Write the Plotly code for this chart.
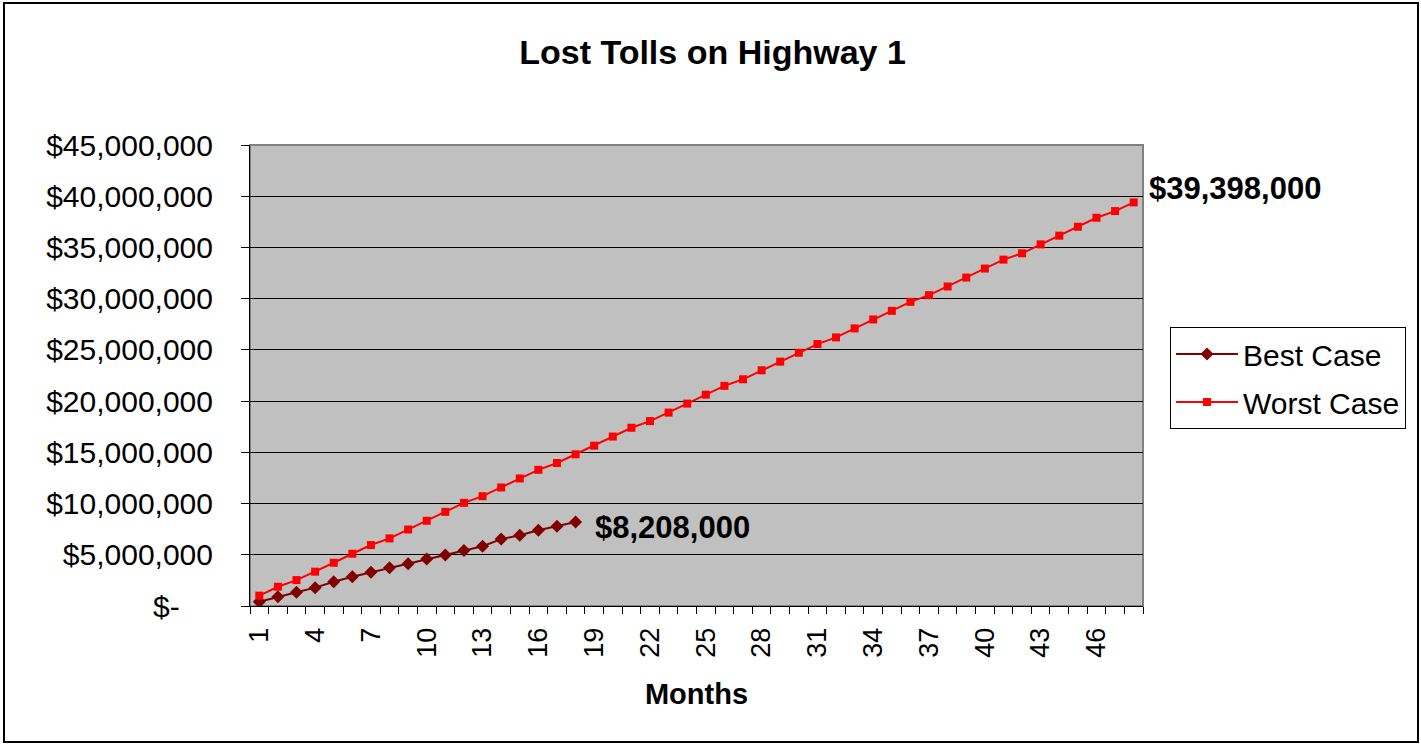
import plotly.graph_objects as go

months = list(range(1, 49))
best_months = list(range(1, 19))
best_case = [420000, 910000, 1340000, 1790000, 2370000, 2860000, 3290000, 3730000, 4130000,
             4580000, 4970000, 5420000, 5840000, 6530000, 6910000, 7400000, 7790000, 8208000]
worst_case = [1010000, 1880000, 2530000, 3350000, 4220000, 5100000, 5950000, 6600000, 7470000,
              8320000, 9190000, 10070000, 10720000, 11570000, 12450000, 13290000, 13960000, 14810000,
              15650000, 16540000, 17400000, 18050000, 18880000, 19760000, 20630000, 21490000, 22130000,
              23010000, 23850000, 24720000, 25570000, 26220000, 27100000, 27970000, 28810000, 29690000,
              30340000, 31190000, 32060000, 32940000, 33810000, 34430000, 35300000, 36150000, 37020000,
              37900000, 38550000, 39398000]
x_tick_vals = list(range(1, 48, 3))
x_tick_text = [str(v) for v in x_tick_vals]
y_tick_vals = [0, 5000000, 10000000, 15000000, 20000000, 25000000, 30000000, 35000000, 40000000, 45000000]
y_tick_text = ["$-\u00a0\u00a0\u00a0\u00a0", "$5,000,000", "$10,000,000", "$15,000,000", "$20,000,000",
               "$25,000,000", "$30,000,000", "$35,000,000", "$40,000,000", "$45,000,000"]

FONT = "Liberation Sans, Arial, sans-serif"
W, H = 1421, 746
L, R, T, B = 250, 1143, 145, 606

fig = go.Figure()
fig.add_trace(go.Scatter(x=best_months, y=best_case, name="Best Case", mode="lines+markers",
                         line=dict(color="#800000", width=2),
                         marker=dict(symbol="diamond", size=10, color="#800000"),
                         legendgroup="a"))
fig.add_trace(go.Scatter(x=months, y=worst_case, name="Worst Case", mode="lines+markers",
                         line=dict(color="#FF0000", width=2),
                         marker=dict(symbol="square", size=8, color="#FF0000"),
                         legendgroup="b"))

pw, ph = R - L, B - T
def px(xp):
    return (xp - L) / pw
def py(yp):
    return (B - yp) / ph

fig.update_layout(
    width=W, height=H,
    margin=dict(l=L, r=W - R, t=T, b=H - B),
    paper_bgcolor="white", plot_bgcolor="#C0C0C0",
    font=dict(family=FONT, color="black", size=30),
    title=dict(text="<b>Lost Tolls on Highway 1</b>", x=712.5 / W, xref="container", xanchor="center",
               y=1 - 52 / H, yref="container", yanchor="middle",
               font=dict(size=34, family=FONT, color="black")),
    showlegend=True,
    legend=dict(x=px(1170), y=py(327), xanchor="left", yanchor="top",
                bgcolor="white", bordercolor="black", borderwidth=1,
                font=dict(size=30, family=FONT), traceorder="grouped",
                tracegroupgap=6, itemwidth=62),
    xaxis=dict(range=[0.5, 48.5], tickmode="array", tickvals=x_tick_vals, ticktext=x_tick_text,
               tickangle=-90, ticks="", showgrid=False, zeroline=False,
               showline=True, linecolor="black", linewidth=1,
               tickfont=dict(size=27, family=FONT), ticklabelstandoff=10,
               minor=dict(tickmode="linear", tick0=0.5, dtick=1, ticks="outside", ticklen=7,
                          tickcolor="black", tickwidth=1, showgrid=False),
               title=dict(text="<b>Months</b>", font=dict(size=29, family=FONT), standoff=26)),
    yaxis=dict(range=[0, 45000000], tickmode="array", tickvals=y_tick_vals, ticktext=y_tick_text,
               ticks="outside", ticklen=8, tickcolor="black", showgrid=True, gridcolor="black",
               gridwidth=1, zeroline=False, showline=True, linecolor="black", linewidth=1,
               tickfont=dict(size=30, family=FONT), ticklabelstandoff=22),
)

# plot area border (gray) and outer chart border
fig.add_shape(type="rect", xref="paper", yref="paper", x0=0, x1=1, y0=0, y1=1,
              line=dict(color="#808080", width=2), layer="below")
fig.add_shape(type="rect", xref="paper", yref="paper", x0=px(4), x1=px(1418), y0=py(742), y1=py(3),
              line=dict(color="black", width=2))

fig.add_annotation(x=months[-1], y=worst_case[-1], xref="x", yref="y",
                   text="<b>${:,}</b>".format(worst_case[-1]), showarrow=False,
                   xanchor="left", yanchor="middle", xshift=13, yshift=14,
                   font=dict(size=31, family=FONT, color="black"))
fig.add_annotation(x=best_months[-1], y=best_case[-1], xref="x", yref="y",
                   text="<b>${:,}</b>".format(best_case[-1]), showarrow=False,
                   xanchor="left", yanchor="middle", xshift=17, yshift=-6,
                   font=dict(size=31, family=FONT, color="black"))

fig.write_html("out.html", config={"displayModeBar": False},
               post_script="document.body.style.margin='0';document.body.style.overflow='hidden';")
